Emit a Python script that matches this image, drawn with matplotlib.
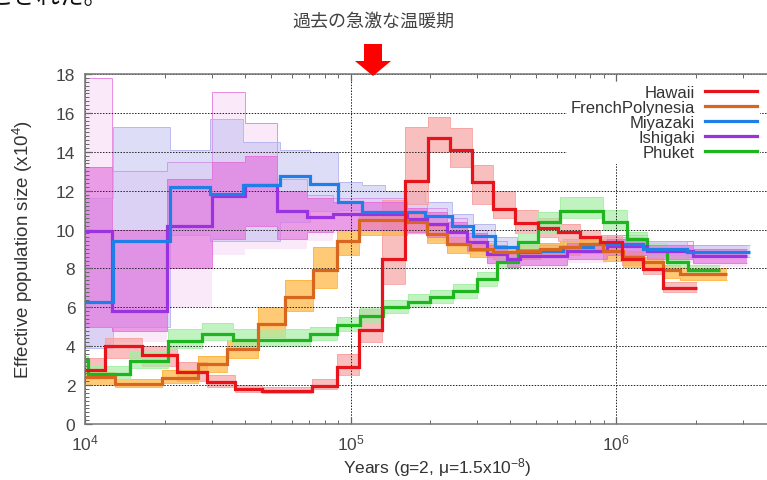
import matplotlib
matplotlib.use('Agg')
import matplotlib.pyplot as plt
from matplotlib.lines import Line2D
from matplotlib.patches import Polygon
from matplotlib.ticker import MultipleLocator

plt.rcParams['font.family'] = ['Liberation Sans', 'DejaVu Sans']
plt.rcParams['mathtext.fontset'] = 'custom'
plt.rcParams['mathtext.rm'] = 'Liberation Sans'
plt.rcParams['mathtext.it'] = 'Liberation Sans:italic'

# step edges (years) and Ne (x10^4) per segment
hawaii_t = [1.0e4, 1.19e4, 1.64e4, 2.22e4, 2.88e4, 3.67e4, 4.64e4, 7.16e4, 8.9e4,
            1.076e5, 1.314e5, 1.605e5, 1.959e5, 2.37e5, 2.869e5, 3.442e5, 4.165e5,
            5.084e5, 6.046e5, 7.316e5, 8.703e5, 1.053e6, 1.264e6, 1.503e6, 2.019e6]
hawaii_ne = [2.8, 4.0, 3.55, 2.67, 2.16, 1.8, 1.7, 1.95, 2.93, 4.84, 8.5, 12.5, 14.7,
             14.1, 12.45, 11.06, 10.34, 10.08, 9.9, 9.6, 9.38, 8.5, 7.97, 7.0]
hawaii_lo = [2.4, 3.4, 3.0, 2.2, 1.9, 1.65, 1.6, 1.8, 2.5, 4.2, 7.2, 11.3, 14.0, 13.2,
             11.3, 10.6, 9.8, 9.6, 9.4, 9.3, 9.0, 8.2, 7.7, 6.8]
hawaii_hi = [3.4, 4.4, 4.0, 3.2, 2.5, 2.0, 1.9, 2.3, 3.6, 5.9, 11.5, 15.3, 15.8, 15.2,
             13.3, 12.0, 11.0, 10.6, 10.3, 10.0, 9.7, 8.9, 8.3, 7.3]

fp_t = [1.0e4, 1.297e4, 1.95e4, 2.665e4, 3.425e4, 4.483e4, 5.666e4, 7.224e4, 8.897e4,
        1.076e5, 1.633e5, 1.942e5, 2.309e5, 2.819e5, 3.442e5, 4.238e5, 5.173e5,
        6.152e5, 7.316e5, 8.933e5, 1.063e6, 1.264e6, 1.503e6, 1.742e6, 2.619e6]
fp_ne = [2.4, 2.06, 2.37, 3.09, 3.86, 5.14, 6.53, 7.92, 9.41, 10.49, 10.4, 9.77, 9.26,
         9.0, 8.85, 8.9, 9.0, 9.1, 9.26, 8.9, 8.6, 8.33, 7.92, 7.72]
fp_lo = [2.0, 1.9, 2.1, 2.7, 3.4, 4.5, 5.8, 7.0, 8.7, 9.7, 9.8, 9.3, 8.8, 8.6, 8.5,
         8.5, 8.6, 8.7, 8.8, 8.4, 8.1, 7.9, 7.5, 7.4]
fp_hi = [2.7, 2.3, 2.8, 3.5, 4.3, 6.0, 7.4, 9.1, 10.0, 10.8, 10.8, 10.2, 9.6, 9.3,
         9.1, 9.2, 9.3, 9.4, 9.5, 9.2, 8.9, 8.6, 8.2, 8.0]

miya_t = [1.0e4, 1.275e4, 2.09e4, 2.957e4, 3.937e4, 5.426e4, 7.04e4, 8.975e4, 1.105e5,
          1.349e5, 1.908e5, 2.412e5, 2.893e5, 3.503e5, 4.238e5, 5.173e5, 6.314e5,
          8.191e5, 1.264e6, 1.851e6, 3.196e6]
miya_ne = [6.28, 9.41, 12.19, 11.83, 12.29, 12.76, 12.35, 11.42, 10.9, 10.9, 10.7,
           10.2, 9.67, 9.1, 8.85, 8.9, 9.1, 9.26, 9.0, 8.85]
miya_lo = [3.9, 5.0, 9.7, 9.4, 9.4, 10.4, 10.96, 11.0, 10.6, 10.5, 10.2, 9.8, 9.2,
           8.7, 8.5, 8.6, 8.8, 8.9, 8.7, 8.6]
miya_hi = [11.6, 15.3, 14.1, 15.7, 14.5, 14.1, 14.0, 12.45, 12.3, 12.0, 11.4, 10.8,
           10.3, 9.6, 9.3, 9.3, 9.5, 9.6, 9.4, 9.2]

ishi_t = [1.0e4, 1.264e4, 2.037e4, 3.009e4, 4.006e4, 5.286e4, 6.859e4, 8.594e4,
          1.633e5, 1.942e5, 2.309e5, 2.747e5, 3.268e5, 3.886e5, 4.349e5, 6.537e5,
          9.25e5, 1.309e6, 1.95e6, 3.114e6]
ishi_ne = [9.93, 5.81, 10.19, 11.73, 12.29, 10.96, 10.65, 10.8, 10.55, 10.3, 9.88,
           9.36, 8.74, 8.49, 8.64, 8.9, 9.16, 8.9, 8.64]
ishi_lo = [5.0, 4.8, 8.0, 9.5, 10.2, 9.5, 9.9, 10.0, 9.9, 9.6, 9.3, 8.9, 8.3, 8.1,
           8.2, 8.5, 8.7, 8.5, 8.3]
ishi_hi = [13.2, 10.0, 12.6, 13.5, 13.8, 12.0, 11.6, 11.4, 11.1, 10.9, 10.4, 9.8,
           9.2, 8.9, 9.0, 9.3, 9.5, 9.2, 9.0]
ishi_out_lo = [4.0, 4.2, 6.0, 8.7, 9.0, 9.0, 9.4, 9.8, 9.7, 9.4, 9.1, 8.7, 8.1, 7.9,
               8.0, 8.3, 8.5, 8.3, 8.1]
ishi_out_hi = [17.8, 13.0, 13.5, 17.1, 15.5, 12.6, 11.8, 11.6, 11.3, 11.1, 10.6,
               10.0, 9.4, 9.1, 9.2, 9.5, 9.7, 9.4, 9.2]

phuket_t = [1.0e4, 1.026e4, 1.477e4, 2.054e4, 2.759e4, 3.609e4, 7.04e4, 8.897e4,
            1.086e5, 1.326e5, 1.647e5, 1.993e5, 2.433e5, 2.996e5, 3.564e5, 4.275e5,
            5.084e5, 6.152e5, 8.933e5, 1.1e6, 1.309e6, 1.556e6, 1.867e6, 2.465e6]
phuket_ne = [3.3, 2.57, 3.24, 4.27, 4.63, 4.3, 4.63, 5.1, 5.56, 6.0, 6.28, 6.53, 6.84,
             7.46, 8.33, 9.36, 10.4, 10.96, 10.4, 9.5, 8.9, 8.33, 7.92]
phuket_lo = [2.5, 2.3, 2.9, 3.9, 4.3, 4.0, 4.3, 4.8, 5.2, 5.7, 6.0, 6.2, 6.5, 7.1, 8.0,
             9.0, 9.9, 10.6, 10.0, 9.2, 8.6, 8.1, 7.7]
phuket_hi = [3.5, 3.0, 3.7, 4.9, 5.2, 4.9, 5.0, 5.5, 6.0, 6.4, 6.7, 6.9, 7.2, 7.8, 8.7,
             9.8, 10.9, 11.7, 11.0, 9.9, 9.3, 8.7, 8.2]

names = ['Hawaii', 'FrenchPolynesia', 'Miyazaki', 'Ishigaki', 'Phuket']
main_colors = ['#e8141c', '#d9661e', '#1f7fe6', '#9a32e0', '#1fb51f']
band_colors = ['#f7a3a3', '#ffb43c', '#b4b4f0', '#e472dc', '#a6eea6']

fig = plt.figure(figsize=(7.67, 4.81), dpi=100)
ax = fig.add_axes([85/767, 56/481, 704/767, 350/481])


def band(t, lo, hi, color, alpha):
    # bootstrap spread: pale fill plus thin outlines
    ax.stairs(hi, t, baseline=lo, fill=True, color=color, alpha=alpha, lw=0, zorder=1)
    ax.stairs(hi, t, baseline=None, color=color, lw=0.7, alpha=0.9, zorder=1)
    ax.stairs(lo, t, baseline=None, color=color, lw=0.7, alpha=0.9, zorder=1)


ax.stairs(ishi_out_hi, ishi_t, baseline=ishi_out_lo, fill=True, color=band_colors[3],
          alpha=0.15, lw=0, zorder=1)
ax.stairs(ishi_out_hi, ishi_t, baseline=None, color=band_colors[3], lw=0.7, alpha=0.8, zorder=1)
band(miya_t, miya_lo, miya_hi, band_colors[2], 0.45)
band(hawaii_t, hawaii_lo, hawaii_hi, band_colors[0], 0.7)
band(fp_t, fp_lo, fp_hi, band_colors[1], 0.7)
band(phuket_t, phuket_lo, phuket_hi, band_colors[4], 0.7)
band(ishi_t, ishi_lo, ishi_hi, band_colors[3], 0.65)

# main estimates
ax.stairs(phuket_ne, phuket_t, baseline=None, color=main_colors[4], lw=2.3, zorder=3)
ax.stairs(ishi_ne, ishi_t, baseline=None, color=main_colors[3], lw=2.3, zorder=3)
ax.stairs(miya_ne, miya_t, baseline=None, color=main_colors[2], lw=2.3, zorder=3)
ax.stairs(fp_ne, fp_t, baseline=None, color=main_colors[1], lw=2.3, zorder=3)
ax.stairs(hawaii_ne, hawaii_t, baseline=None, color=main_colors[0], lw=2.3, zorder=4)

ax.set_xscale('log')
ax.set_xlim(1e4, 10 ** (4 + 704 / 265.5))
ax.set_ylim(0, 18)
ax.yaxis.set_major_locator(MultipleLocator(2))
ax.yaxis.set_minor_locator(MultipleLocator(0.2))
ax.grid(True, which='major', color='#222222', linestyle=(0, (1.5, 1.5)), lw=0.7, zorder=0)
ax.tick_params(which='both', direction='in', top=True, right=True, colors='#666666',
               labelcolor='#444444', labelsize=12.5)
ax.tick_params(which='major', length=5, width=0.9)
ax.tick_params(which='minor', length=3, width=0.7)
ax.tick_params(axis='y', pad=7)
ax.tick_params(axis='x', pad=6)
for s in ax.spines.values():
    s.set_color('#777777')
    s.set_linewidth(1.1)

ax.set_ylabel('Effective population size (x10$^4$)', fontsize=13.5, color='#333333', labelpad=15)
ax.set_xlabel('Years (g=2, \u03bc=1.5x10$^{-8}$)', fontsize=12.5, color='#333333', labelpad=2)

handles = [Line2D([], [], color=c, lw=2.3) for c in main_colors]
leg = ax.legend(handles, names, loc='upper right', bbox_to_anchor=(760/767, 398/481),
                bbox_transform=fig.transFigure, markerfirst=False, fontsize=12,
                handlelength=3.1, handletextpad=0.6, labelspacing=0.0, borderpad=0.2,
                borderaxespad=0, frameon=True, fancybox=False, framealpha=1,
                edgecolor='none', facecolor='white')
for t in leg.get_texts():
    t.set_color('#333333')

# annotation: arrow and title above the plot
arrow = Polygon([(364/767, 1 - 45/481), (382/767, 1 - 45/481), (382/767, 1 - 62/481),
                 (391/767, 1 - 62/481), (373/767, 1 - 77/481), (355/767, 1 - 62/481),
                 (364/767, 1 - 62/481)], closed=True, transform=fig.transFigure,
                facecolor='#ff0000', edgecolor='none', zorder=10)
fig.patches.append(arrow)
fig.text(373/767, 1 - 22/481, '過去の急激な温暖期', ha='center', va='center', fontsize=13,
         color='#444444', family=['Noto Sans CJK JP', 'DejaVu Sans'])
fig.text(-10/767, 1 - 9/481, 'こされた。', ha='left', va='bottom', fontsize=17,
         color='#111111', family=['Noto Sans CJK JP', 'DejaVu Sans'])

fig.savefig('out.png', dpi=100)
